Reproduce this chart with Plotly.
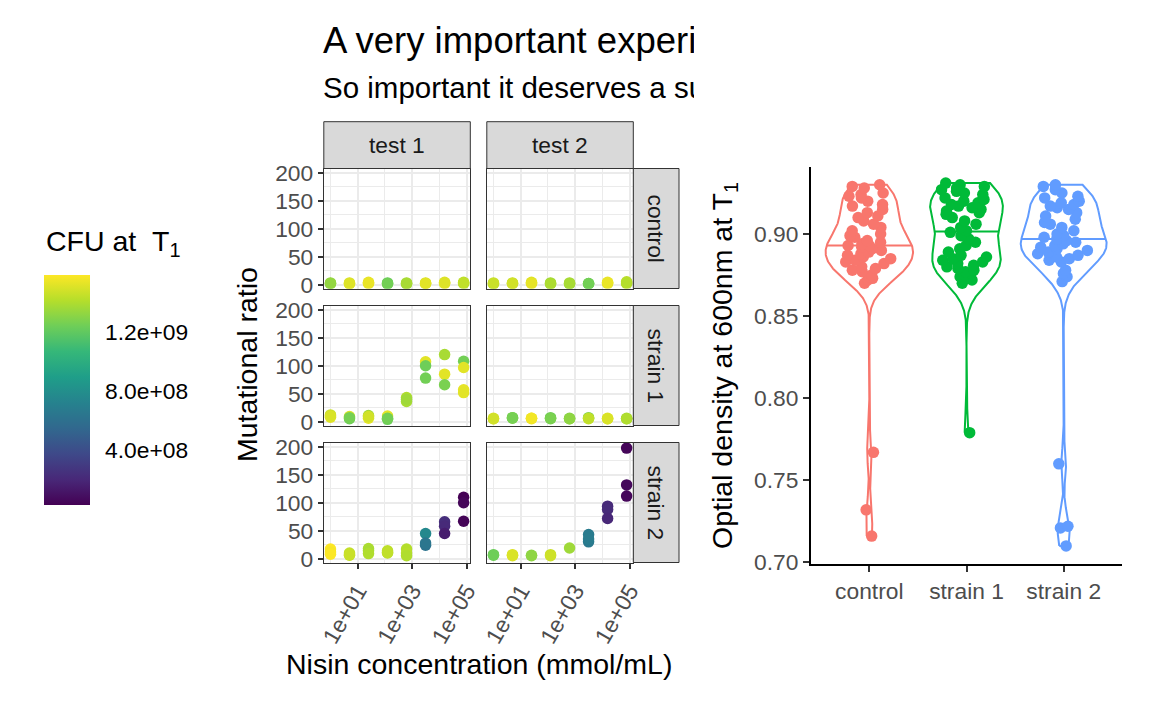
import numpy as np
import plotly.graph_objects as go

W, H = 1152, 711
FONT = "Liberation Sans"

# ---- facet data: nisin concentration x mutational ratio, coloured by CFU ----
CONC = [1, 5, 25, 125, 625, 3125, 15625, 78125]
CONC_TICKS = [10, 1000, 100000]
CONC_TICKTEXT = ["1e+01", "1e+03", "1e+05"]
STRAINS = ["control", "strain 1", "strain 2"]
TESTS = ["test 1", "test 2"]

# one inner list per concentration (replicates)
ratio_control_t1 = [[2, 3, 2], [3, 1, 2], [4, 2, 3], [2, 3, 1], [1, 2, 3], [3, 2, 2], [3, 2, 4], [4, 2, 3]]
cfu_control_t1 = [[1.32e9, 1.34e9, 1.33e9], [1.50e9, 1.52e9, 1.51e9], [1.53e9, 1.52e9, 1.54e9],
                  [1.24e9, 1.23e9, 1.25e9], [1.37e9, 1.36e9, 1.38e9], [1.51e9, 1.50e9, 1.52e9],
                  [1.53e9, 1.52e9, 1.51e9], [1.43e9, 1.42e9, 1.44e9]]

ratio_control_t2 = [[2, 1, 3], [3, 2, 2], [4, 3, 2], [3, 2, 1], [2, 1, 3], [1, 2, 2], [3, 2, 4], [5, 3, 2]]
cfu_control_t2 = [[1.45e9, 1.44e9, 1.46e9], [1.47e9, 1.46e9, 1.48e9], [1.52e9, 1.51e9, 1.53e9],
                  [1.38e9, 1.37e9, 1.39e9], [1.37e9, 1.36e9, 1.38e9], [1.24e9, 1.23e9, 1.25e9],
                  [1.53e9, 1.52e9, 1.54e9], [1.42e9, 1.43e9, 1.41e9]]

ratio_strain1_t1 = [[12, 8, 10], [9, 5, 7], [11, 6, 9], [10, 4, 6], [43, 36, 40], [107, 100, 78],
                    [120, 85, 66], [108, 97, 57, 52]]
cfu_strain1_t1 = [[1.46e9, 1.52e9, 1.50e9], [1.50e9, 1.24e9, 1.26e9], [1.36e9, 1.52e9, 1.48e9],
                  [1.52e9, 1.23e9, 1.25e9], [1.40e9, 1.38e9, 1.36e9], [1.52e9, 1.24e9, 1.25e9],
                  [1.38e9, 1.52e9, 1.27e9], [1.25e9, 1.52e9, 1.53e9, 1.52e9]]

ratio_strain1_t2 = [[5, 6, 5], [7, 6, 7], [6, 5, 6], [6, 7, 5], [5, 6, 5], [7, 5, 6], [5, 6, 5], [5, 6, 5]]
cfu_strain1_t2 = [[1.49e9, 1.50e9, 1.48e9], [1.27e9, 1.28e9, 1.26e9], [1.55e9, 1.54e9, 1.56e9],
                  [1.26e9, 1.25e9, 1.27e9], [1.31e9, 1.30e9, 1.32e9], [1.24e9, 1.45e9, 1.44e9],
                  [1.51e9, 1.52e9, 1.50e9], [1.39e9, 1.38e9, 1.40e9]]

ratio_strain2_t1 = [[17, 12, 8], [10, 6, 7], [18, 14, 9], [14, 10, 11], [17, 10, 5], [45, 24, 28],
                    [66, 58, 45], [110, 100, 67]]
cfu_strain2_t1 = [[1.586e9, 1.57e9, 1.58e9], [1.45e9, 1.44e9, 1.46e9], [1.39e9, 1.38e9, 1.40e9],
                  [1.43e9, 1.42e9, 1.44e9], [1.41e9, 1.42e9, 1.40e9], [7.6e8, 6.2e8, 6.4e8],
                  [2.3e8, 2.1e8, 1.5e8], [2.7e7, 5.0e7, 4.0e7]]

ratio_strain2_t2 = [[7, 6], [7, 5, 6], [6, 5], [7, 5], [19], [43, 30, 35], [94, 88, 72], [198, 132, 112]]
cfu_strain2_t2 = [[1.23e9, 1.24e9], [1.51e9, 1.52e9, 1.50e9], [1.31e9, 1.32e9], [1.46e9, 1.47e9],
                  [1.36e9], [6.7e8, 6.6e8, 6.8e8], [2.1e8, 2.2e8, 2.0e8], [5.0e7, 6.0e7, 5.5e7]]

PANELS = {
    ("control", "test 1"): (ratio_control_t1, cfu_control_t1),
    ("control", "test 2"): (ratio_control_t2, cfu_control_t2),
    ("strain 1", "test 1"): (ratio_strain1_t1, cfu_strain1_t1),
    ("strain 1", "test 2"): (ratio_strain1_t2, cfu_strain1_t2),
    ("strain 2", "test 1"): (ratio_strain2_t1, cfu_strain2_t1),
    ("strain 2", "test 2"): (ratio_strain2_t2, cfu_strain2_t2),
}
CFU_TICKS = [4e8, 8e8, 1.2e9]
CFU_TICKTEXT = ["4.0e+08", "8.0e+08", "1.2e+09"]

# ---- violin data: optical density at 600nm ----
od_control = [0.930, 0.929, 0.928, 0.925, 0.924, 0.923, 0.922, 0.920, 0.918, 0.917, 0.915, 0.913,
              0.911, 0.910, 0.908, 0.906, 0.904, 0.902, 0.900, 0.899, 0.898, 0.896, 0.895, 0.894,
              0.893, 0.893, 0.892, 0.891, 0.890, 0.889, 0.888, 0.887, 0.886, 0.885, 0.884, 0.883,
              0.882, 0.880, 0.879, 0.878, 0.877, 0.875, 0.874, 0.873, 0.872, 0.870, 0.767, 0.732, 0.716]
od_strain1 = [0.931, 0.930, 0.929, 0.928, 0.927, 0.926, 0.925, 0.924, 0.922, 0.921, 0.920, 0.919,
              0.918, 0.917, 0.916, 0.915, 0.914, 0.913, 0.912, 0.910, 0.908, 0.906, 0.904, 0.902,
              0.901, 0.899, 0.897, 0.895, 0.893, 0.891, 0.889, 0.887, 0.886, 0.885, 0.884, 0.883,
              0.882, 0.881, 0.880, 0.879, 0.878, 0.877, 0.876, 0.875, 0.874, 0.872, 0.870, 0.779]
od_strain2 = [0.930, 0.929, 0.927, 0.925, 0.923, 0.922, 0.920, 0.919, 0.918, 0.917, 0.916, 0.915,
              0.913, 0.911, 0.909, 0.907, 0.906, 0.904, 0.902, 0.900, 0.899, 0.898, 0.897, 0.896,
              0.895, 0.894, 0.893, 0.892, 0.891, 0.890, 0.889, 0.888, 0.887, 0.886, 0.885, 0.884,
              0.883, 0.878, 0.876, 0.874, 0.871, 0.760, 0.722, 0.721, 0.710]
OD_GROUPS = [od_control, od_strain1, od_strain2]
GROUP_COLORS = ["#F8766D", "#00BA38", "#619CFF"]
OD_TICKS = [0.70, 0.75, 0.80, 0.85, 0.90]

# text sizes (px)
SZ_TITLE = 36.5
SZ_SUB = 29.5
SZ_LABEL = 28.5
SZ_TICK = 22.8


def fx(px):
    return px / W


def fy(py):
    return 1 - py / H


def nrd0(v):
    # same rule of thumb as R's bw.nrd0
    v = np.asarray(v)
    q75, q25 = np.percentile(v, [75, 25])
    lo = min(v.std(ddof=1), (q75 - q25) / 1.34)
    return 0.9 * lo * len(v) ** -0.2


def kde(v, grid):
    v = np.asarray(v)
    bw = nrd0(v)
    z = (grid[:, None] - v[None, :]) / bw
    return np.exp(-0.5 * z ** 2).sum(axis=1) / (len(v) * bw * np.sqrt(2 * np.pi))


def note(text, x, y, size, color="black", angle=0, xanchor="center"):
    return dict(text=text, xref="paper", yref="paper", x=fx(x), y=fy(y), textangle=angle,
                xanchor=xanchor, yanchor="middle", showarrow=False,
                font=dict(family=FONT, size=size, color=color))


fig = go.Figure()
axes = {}

col_px = [(323.8, 470.3), (486.8, 633.3)]
row_px = [(168.5, 288.5), (305.5, 425.5), (442.5, 562.5)]
grid_col = "#EBEBEB"
dark = "#333333"
tick_font = dict(family=FONT, size=SZ_TICK, color="#4D4D4D")

k = 0
for r, strain in enumerate(STRAINS):
    for c, test in enumerate(TESTS):
        k += 1
        sfx = "" if k == 1 else str(k)
        ratio, cfu = PANELS[(strain, test)]
        xs, ys, cs = [], [], []
        for conc, rr, cc in zip(CONC, ratio, cfu):
            xs += [conc] * len(rr)
            ys += rr
            cs += cc
        fig.add_trace(go.Scatter(x=xs, y=ys, mode="markers",
                                 marker=dict(size=11.5, color=cs, coloraxis="coloraxis"),
                                 xaxis="x" + sfx, yaxis="y" + sfx, showlegend=False))
        bottom = r == 2
        left = c == 0
        axes["xaxis" + sfx] = dict(
            domain=[fx(col_px[c][0]), fx(col_px[c][1])], anchor="y" + sfx,
            type="log", range=[-0.245, 5.138],
            tickvals=CONC_TICKS, ticktext=CONC_TICKTEXT, showticklabels=bottom,
            ticks="outside" if bottom else "", ticklen=5, tickwidth=1.5, tickcolor=dark,
            tickangle=-60, tickfont=tick_font,
            showgrid=True, gridcolor=grid_col, gridwidth=2,
            minor=dict(tickvals=[1, 100, 10000], showgrid=True, gridcolor=grid_col, gridwidth=1),
            showline=True, mirror=True, linecolor=dark, linewidth=1, zeroline=False)
        axes["yaxis" + sfx] = dict(
            domain=[fy(row_px[r][1]), fy(row_px[r][0])], anchor="x" + sfx,
            range=[-7, 208], tickvals=[0, 50, 100, 150, 200], showticklabels=left,
            ticks="outside" if left else "", ticklen=5, tickwidth=1.5, tickcolor=dark,
            tickfont=tick_font,
            showgrid=True, gridcolor=grid_col, gridwidth=2,
            minor=dict(tickvals=[25, 75, 125, 175], showgrid=True, gridcolor=grid_col, gridwidth=1),
            showline=True, mirror=True, linecolor=dark, linewidth=1, zeroline=False)

# strips
shapes = []
annotations = []
strip_fill = "#D9D9D9"
for c, test in enumerate(TESTS):
    shapes.append(dict(type="rect", xref="paper", yref="paper",
                       x0=fx(col_px[c][0]), x1=fx(col_px[c][1]), y0=fy(168.5), y1=fy(121.7),
                       fillcolor=strip_fill, line=dict(color=dark, width=1)))
    annotations.append(note(test, (col_px[c][0] + col_px[c][1]) / 2, 145, SZ_TICK, "#1A1A1A"))
for r, strain in enumerate(STRAINS):
    shapes.append(dict(type="rect", xref="paper", yref="paper",
                       x0=fx(633.3), x1=fx(679), y0=fy(row_px[r][1]), y1=fy(row_px[r][0]),
                       fillcolor=strip_fill, line=dict(color=dark, width=1)))
    annotations.append(note(strain, 656, (row_px[r][0] + row_px[r][1]) / 2, SZ_TICK, "#1A1A1A", angle=90))

annotations.append(note("Mutational ratio", 247, 365, SZ_LABEL, angle=-90))
annotations.append(note("Nisin concentration (mmol/mL)", 478.5, 664, SZ_LABEL))
annotations.append(note("Optial density at 600nm at T<sub>1</sub>", 724, 366, SZ_LABEL, angle=-90))
annotations.append(note("CFU at \u00a0T<sub>1</sub>", 44, 243, SZ_LABEL, xanchor="left"))

# ---- violins (ggplot style: trimmed, area-scaled, median line) ----
grids = []
dens = []
for v in OD_GROUPS:
    g = np.linspace(min(v), max(v), 512)
    grids.append(g)
    dens.append(kde(v, g))
dmax = max(d.max() for d in dens)
for i, (v, g, d, col) in enumerate(zip(OD_GROUPS, grids, dens, GROUP_COLORS), start=1):
    w = 0.45 * d / dmax
    px_ = np.concatenate([i - w, (i + w)[::-1], [i - w[0]]])
    py_ = np.concatenate([g, g[::-1], [g[0]]])
    fig.add_trace(go.Scatter(x=px_, y=py_, mode="lines", fill="toself", fillcolor="white",
                             line=dict(color=col, width=2), xaxis="x7", yaxis="y7",
                             showlegend=False, hoverinfo="skip"))
    med = float(np.median(v))
    wm = float(np.interp(med, g, w))
    fig.add_trace(go.Scatter(x=[i - wm, i + wm], y=[med, med], mode="lines",
                             line=dict(color=col, width=2), xaxis="x7", yaxis="y7",
                             showlegend=False, hoverinfo="skip"))
    # jittered points on an overlaid subplot so they sit above the outlines
    fig.add_trace(go.Violin(y=v, x0=i, width=0.55, points="all", pointpos=0, jitter=1,
                            line=dict(width=0), fillcolor="rgba(0,0,0,0)", spanmode="hard",
                            marker=dict(color=col, size=11.5, opacity=1), hoveron="points",
                            xaxis="x8", yaxis="y8", showlegend=False))

vx_range = [0.4, 3.6]
vy_range = [0.699, 0.941]
axes["xaxis7"] = dict(domain=[fx(811), fx(1122)], anchor="y7", range=vx_range, type="linear",
                      tickvals=[1, 2, 3], ticktext=STRAINS, tickfont=tick_font,
                      ticks="outside", ticklen=6, tickwidth=2, tickcolor="#333333",
                      showline=True, linecolor="black", linewidth=2, showgrid=False, zeroline=False)
axes["yaxis7"] = dict(domain=[fy(564), fy(166.7)], anchor="x7", range=vy_range,
                      tickvals=OD_TICKS, tickformat=".2f", tickfont=tick_font,
                      ticks="outside", ticklen=6, tickwidth=2, tickcolor="#333333",
                      showline=True, linecolor="black", linewidth=2, showgrid=False, zeroline=False)
axes["xaxis8"] = dict(overlaying="x7", anchor="y8", range=vx_range, type="linear", visible=False)
axes["yaxis8"] = dict(overlaying="y7", anchor="x8", range=vy_range, visible=False)

# ---- title / subtitle, clipped to the left plot's region like the original ----
fig.add_trace(go.Scatter(x=[323, 323], y=[44, 90.5], mode="text",
                         text=["A very important experiment", "So important it deserves a subtitle"],
                         textposition="middle right",
                         textfont=dict(family=FONT, size=[SZ_TITLE, SZ_SUB], color="black"),
                         marker=dict(size=1), cliponaxis=True, hoverinfo="skip",
                         xaxis="x9", yaxis="y9", showlegend=False))
axes["xaxis9"] = dict(domain=[0, fx(694)], anchor="y9", range=[0, 694], visible=False)
axes["yaxis9"] = dict(domain=[fy(115), 1], anchor="x9", range=[115, 0], visible=False)

# colour bar: white tick marks on both sides of the bar, like ggplot's guide
all_cfu = [x for _, cfu in PANELS.values() for rep in cfu for x in rep]
cmin, cmax = min(all_cfu), max(all_cfu)
bar_top, bar_bot, bar_l, bar_r = 275, 505, 44, 90
for t in CFU_TICKS:
    ty = bar_bot - (t - cmin) / (cmax - cmin) * (bar_bot - bar_top)
    for xa, xb in [(bar_l, bar_l + 9), (bar_r - 9, bar_r)]:
        shapes.append(dict(type="line", xref="paper", yref="paper", x0=fx(xa), x1=fx(xb),
                           y0=fy(ty), y1=fy(ty), line=dict(color="rgba(255,255,255,0.85)", width=1)))

fig.update_layout(
    width=W, height=H, margin=dict(l=0, r=0, t=0, b=0, autoexpand=False),
    paper_bgcolor="white", plot_bgcolor="white",
    font=dict(family=FONT, color="black"),
    shapes=shapes, annotations=annotations,
    coloraxis=dict(
        colorscale="Viridis", cmin=cmin, cmax=cmax,
        colorbar=dict(x=fx(bar_l), xanchor="left", y=fy((bar_top + bar_bot) / 2), yanchor="middle",
                      len=bar_bot - bar_top, lenmode="pixels", thickness=bar_r - bar_l,
                      thicknessmode="pixels", outlinewidth=0,
                      ticks="outside", ticklen=11, tickcolor="rgba(0,0,0,0)",
                      tickvals=CFU_TICKS, ticktext=CFU_TICKTEXT,
                      tickfont=dict(family=FONT, size=SZ_TICK, color="black"),
                      xpad=0, ypad=0)),
    **axes,
)

fig.write_html("out.html", config={"displayModeBar": False},
               post_script="document.body.style.margin='0';")
